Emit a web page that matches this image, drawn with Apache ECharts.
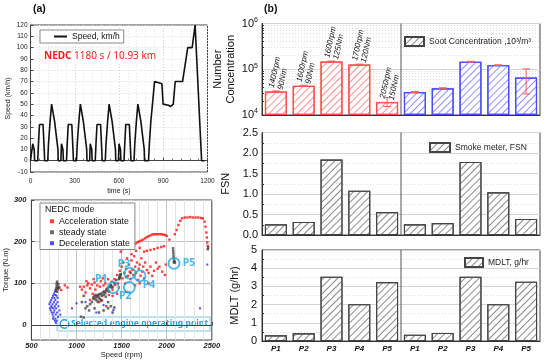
<!DOCTYPE html>
<html><head><meta charset="utf-8">
<script src="https://cdn.jsdelivr.net/npm/echarts@6/dist/echarts.min.js"></script>
<style>html,body{margin:0;padding:0;background:#fff}#c{width:550px;height:364px}</style>
</head><body><div id="c"></div>
<script>
// ================= DATA =================
// (a) NEDC speed profile (time s, speed km/h)
const speedTime = [0,11,15,23,25,28,49,54,56,61,85,93,96,117,122,124,133,135,143,155,163,176,186,188,
  195,206,210,218,220,223,244,249,251,256,280,288,291,312,317,319,328,330,338,350,358,371,381,383,
  390,401,405,413,415,418,439,444,446,451,475,483,486,507,512,514,523,525,533,545,553,566,576,578,
  585,596,600,608,610,613,634,639,641,646,670,678,681,702,707,709,718,720,728,740,748,761,771,773,
  780,800,806,808,816,818,827,829,841,891,899,935,950,968,981,1031,1066,1096,1116,1126,1160,1180];
const speedValue = [0,0,15,15,10,0,0,15,15,32,32,10,0,0,15,15,35,35,50,50,35,35,10,0,
  0,0,15,15,10,0,0,15,15,32,32,10,0,0,15,15,35,35,50,50,35,35,10,0,
  0,0,15,15,10,0,0,15,15,32,32,10,0,0,15,15,35,35,50,50,35,35,10,0,
  0,0,15,15,10,0,0,15,15,32,32,10,0,0,15,15,35,35,50,50,35,35,10,0,
  0,0,15,15,35,35,50,50,70,68,50,49,48,50,70,70,100,100,120,120,0,0];

// (a) engine operating points (rpm, N.m)
const accelPoints = [
  [2090,218],[2110,228],[2130,240],[2150,250],[2170,256],[2200,258],[2230,258],[2260,259],[2290,258],[2320,258],
  [2350,258],[2380,257],[2400,256],[2420,248],[2430,236],[2440,222],[2445,210],[2450,198],[2455,190],
  [1490,176],[1510,182],[1530,186],[1550,189],[1570,190],[1600,190],[1620,191],[1640,193],[1660,196],[1680,199],
  [1700,201],[1720,203],[1740,205],[1760,208],[1780,211],[1800,213],[1820,215],[1840,217],[1860,218],[1880,218],
  [1900,218],[1920,218],[1940,218],[1960,217],[1980,216],[2000,214],[2030,205],
  [1750,176],[1780,178],[1820,180],[1860,182],[1900,185],[1940,187],[1970,189],
  [1060,85],[1080,92],[1100,78],[1120,95],[1130,100],[1150,88],[1170,97],[1180,75],[1200,102],[1210,85],
  [1230,95],[1240,70],[1260,92],[1270,105],[1280,60],[1300,95],[1310,80],[1320,100],[1340,88],[1350,110],
  [1360,72],[1380,95],[1390,104],[1400,85],[1420,110],[1430,96],[1450,120],[1460,100],[1470,90],[1480,130],
  [1500,140],[1510,112],[1520,150],[1530,125],[1540,100],[1550,135],[1560,160],[1570,118],[1580,145],[1590,128],
  [1600,110],[1610,155],[1620,132],[1630,120],[1640,165],[1650,140],[1660,125],[1670,150],[1680,108],[1690,135],
  [1700,145],[1710,118],[1720,160],[1730,128],[1740,140],[1750,112],[1760,150],[1780,132],[1800,125],[1820,140],
  [1840,118],[1860,130],[1880,150],[1900,135],[1920,140],[1950,128],[1980,120],[1990,145],[1150,60],[1250,55],
  [1330,45],[1400,70],[1450,75],[1650,95],[1700,100],[1800,100],[870,95],[900,90],[1040,92],[1550,80],
  [790,88],[810,90],[830,84],[1110,105],[1190,110],[1290,112],[1610,170],[1660,178],[1700,185]
];
const steadyPoints = [
  [770,82],[775,88],[780,95],[782,100],[785,104],[790,92],[795,86],[800,98],[805,90],[785,80],
  [1150,50],[1170,55],[1190,62],[1200,70],[1210,65],[1220,60],[1230,68],[1240,72],[1250,65],[1260,62],
  [1270,75],[1280,70],[1290,78],[1300,72],[1310,80],[1320,76],[1330,85],[1340,82],[1350,88],[1360,80],
  [1370,92],[1380,95],[1390,90],[1400,92],[1215,72],[1255,74],[1275,58],[1325,68],[1185,66],[1235,56],
  [1470,110],[1475,112],[1480,114],[1480,118],[1485,120],[1480,116],[1490,122],
  [2080,150],[2082,154],[2078,160],[2076,166],[2074,172],[2072,178],[2070,184],[2090,150],[2085,152],
  [1100,40],[1120,45],[1060,55],[1080,70],[1140,35],[1200,40],[1300,35],[1350,40],[1400,30],[1250,30],
  [1350,55],[1420,100],[1440,108],[1550,115],[1600,125],[2455,182],[2460,186],[1050,20],[1080,18],[1380,45],[1420,42]
];
const decelPoints = [
  [700,50],[705,40],[710,55],[715,35],[720,60],[720,45],[725,30],[730,65],[735,50],[735,25],
  [740,70],[745,40],[745,20],[750,75],[750,55],[755,35],[760,80],[760,45],[765,15],[765,60],
  [770,25],[770,85],[775,50],[775,40],[780,10],[780,70],[785,30],[790,55],[795,20],[800,45],
  [810,35],[820,25],[760,10],[770,5],[740,15],[755,65],[765,72],[748,30],[728,42],[790,65],
  [1000,52],[950,40],[1220,30],[1300,48],[1410,36],[2370,40],[2450,145],[1100,55]
];
const opPoints = [[1408,90],[1585,90],[1593,124],[1704,118],[2081,148]];
const opNames = ['P1','P2','P3','P4','P5'];

// (b) bar charts
const categories = ['P1','P2','P3','P4','P5','P1','P2','P3','P4','P5'];
const opLabels = ['1400rpm\n90Nm','1600rpm\n90Nm','1600rpm\n125Nm','1700rpm\n120Nm','2050rpm\n150Nm'];
const sootLeft = [32500, 43500, 148000, 127000, 19100];
const sootLeftLow = [31500, 42300, 145000, 124500, 15300];
const sootLeftHigh = [33500, 44700, 151000, 129500, 24000];
const sootRight = [31900, 38400, 146000, 123000, 66000];
const sootRightLow = [31100, 37400, 143000, 120500, 28800];
const sootRightHigh = [32700, 39400, 149000, 125500, 101600];
const fsnLeft = [0.26, 0.32, 1.84, 1.08, 0.56];
const fsnRight = [0.26, 0.29, 1.78, 1.04, 0.39];
const mdltLeft = [0.31, 0.42, 3.53, 2.02, 3.24];
const mdltRight = [0.35, 0.44, 3.53, 2.02, 3.26];

// ================= CHART =================
const F = '"Liberation Sans", Arial, sans-serif';
const CYAN = '#1ea6e2';
const chart = echarts.init(document.getElementById('c'), null, {width:550, height:364});

function hatch(color){
  return {symbol:'rect', symbolSize:1, dashArrayX:[1,0], dashArrayY:[1,3.5], rotation:-Math.PI/4, color:color};
}
const blank5 = ['-','-','-','-','-'];

function errRender(params, api){
  const x = api.value(0), lo = api.value(1), hi = api.value(2);
  const p1 = api.coord([x, lo]), p2 = api.coord([x, hi]);
  const w = 4, st = {stroke:'#ff5a5a', lineWidth:1};
  return {type:'group', children:[
    {type:'line', shape:{x1:p1[0],y1:p1[1],x2:p2[0],y2:p2[1]}, style:st},
    {type:'line', shape:{x1:p1[0]-w,y1:p1[1],x2:p1[0]+w,y2:p1[1]}, style:st},
    {type:'line', shape:{x1:p2[0]-w,y1:p2[1],x2:p2[0]+w,y2:p2[1]}, style:st}
  ]};
}
const errData = sootLeft.map((v,i)=>[i, sootLeftLow[i], sootLeftHigh[i]])
  .concat(sootRight.map((v,i)=>[i+5, sootRightLow[i], sootRightHigh[i]]));

const GB = {left:262, width:278};
const grids = [
  {left:30.5, top:25, width:177, height:147},
  {left:31.4, top:200, width:180.4, height:140},
  {left:GB.left, top:23.5, width:GB.width, height:91.5},
  {left:GB.left, top:132.5, width:GB.width, height:102.5},
  {left:GB.left, top:250, width:GB.width, height:91}
].map(g => Object.assign({show:true, borderColor:'#444', borderWidth:1, backgroundColor:'transparent', outerBoundsMode:'none'}, g));

const lbl = (size, extra) => Object.assign({fontFamily:F, fontSize:size, color:'#222'}, extra||{});
const solidGrid = {show:true, lineStyle:{color:'#d4d4d4', width:1}};
const dotGrid = {show:true, lineStyle:{color:'#dcdcdc', width:1, type:[1,2]}};

const bCatAxis = (gi, showLabel) => ({
  type:'category', gridIndex:gi, data:categories,
  axisLine:{show:true, lineStyle:{color:'#333'}},
  axisTick:{show:true, inside:true, alignWithLabel:true, length:4, lineStyle:{color:'#333'}},
  axisLabel:{show:showLabel, ...lbl(8, {fontWeight:'bold', fontStyle:'italic', color:'#111'}), margin:4},
  splitLine:{show:false}
});
const barCommon = {barWidth:22, barGap:'-100%'};

const option = {
  animation:false,
  backgroundColor:'#fff',
  textStyle:{fontFamily:F},
  grid: grids,
  xAxis: [
    {type:'value', gridIndex:0, min:0, max:1200, interval:300,
      axisLine:{lineStyle:{color:'#444'}}, axisTick:{inside:true, length:3, lineStyle:{color:'#444'}},
      minorTick:{show:true, splitNumber:5, length:2, lineStyle:{color:'#666'}},
      axisLabel:lbl(6.5, {margin:6, formatter: v => String(v)}),
      splitLine:{show:true, lineStyle:{color:'#cfcfcf', type:[1,2]}},
      minorSplitLine:{show:true, lineStyle:{color:'#e6e6e6', type:[1,2]}},
      name:'time (s)', nameLocation:'middle', nameGap:16, nameTextStyle:lbl(7)},
    {type:'value', gridIndex:1, min:500, max:2500, interval:500,
      axisLine:{lineStyle:{color:'#444'}}, axisTick:{inside:true, length:3},
      minorTick:{show:false},
      axisLabel:lbl(7.5, {fontWeight:'bold', fontStyle:'italic', margin:2, formatter: v => String(v)}),
      splitLine:{show:true, lineStyle:{color:'#c4c4c4'}},
      minorSplitLine:{show:true, lineStyle:{color:'#e4e4e4'}},
      name:'Speed (rpm)', nameLocation:'middle', nameGap:10, nameTextStyle:lbl(7.5)},
    bCatAxis(2,false), bCatAxis(3,false), bCatAxis(4,true)
  ],
  yAxis: [
    {type:'value', gridIndex:0, min:-10, max:120, interval:10,
      axisLine:{lineStyle:{color:'#444'}}, axisTick:{inside:true, length:3},
      axisLabel:lbl(6.5, {margin:3}),
      splitLine:{show:true, lineStyle:{color:'#d6d6d6', type:[1,2]}},
      name:'Speed (km/h)', nameLocation:'middle', nameGap:19, nameTextStyle:lbl(7)},
    {type:'value', gridIndex:1, min:-36, max:300,
      axisLine:{lineStyle:{color:'#444'}},
      axisTick:{inside:true, length:3, customValues:[0,100,200,300]},
      axisLabel:lbl(7.5, {fontWeight:'bold', fontStyle:'italic', margin:5, customValues:[0,100,200,300]}),
      splitLine:{show:true, lineStyle:{color:'#c4c4c4'}},
      name:'Torque (N.m)', nameLocation:'middle', nameGap:20, nameTextStyle:lbl(7.5)},
    {type:'log', gridIndex:2, min:10000, max:1000000, logBase:10, startValue:10000,
      axisLine:{show:true, lineStyle:{color:'#333'}}, axisTick:{inside:true, length:4},
      minorTick:{show:true, splitNumber:9, length:2},
      axisLabel:{...lbl(11, {color:'#111'}), margin:4,
        formatter: v => '10{s|' + Math.round(Math.log10(v)) + '}',
        rich:{s:{fontFamily:F, fontSize:7, verticalAlign:'top', padding:[0,0,7,0], color:'#111'}}},
      splitLine:solidGrid, minorSplitLine:dotGrid,
      name:'Number\nConcentration', nameLocation:'middle', nameGap:25, nameMoveOverlap:false,
      nameTextStyle:lbl(11, {color:'#111', lineHeight:13})},
    {type:'value', gridIndex:3, min:0, max:2.5, interval:0.5,
      axisLine:{show:true, lineStyle:{color:'#333'}}, axisTick:{inside:true, length:4},
      minorTick:{show:true, splitNumber:2, length:2},
      axisLabel:{...lbl(11, {color:'#111'}), margin:4, formatter: v => v.toFixed(1)},
      splitLine:solidGrid, minorSplitLine:dotGrid,
      name:'FSN', nameLocation:'middle', nameGap:24, nameTextStyle:lbl(11, {color:'#111'})},
    {type:'value', gridIndex:4, min:0, max:5, interval:1,
      axisLine:{show:true, lineStyle:{color:'#333'}}, axisTick:{inside:true, length:4},
      minorTick:{show:true, splitNumber:2, length:2},
      axisLabel:{...lbl(11, {color:'#111'}), margin:5},
      splitLine:solidGrid, minorSplitLine:dotGrid,
      name:'MDLT (g/hr)', nameLocation:'middle', nameGap:21, nameTextStyle:lbl(11, {color:'#111'})}
  ],
  legend: [
    {data:[{name:'Speed, km/h', icon:'rect'}], left:40, top:30, orient:'vertical', backgroundColor:'#fff',
      borderColor:'#888', borderWidth:1, padding:[2,4,2,14], itemWidth:13, itemHeight:2, itemGap:0,
      textStyle:lbl(8.5, {color:'#111'})},
    {data:['Acceleration state','steady state','Deceleration state'], left:40, top:203, orient:'vertical',
      backgroundColor:'#fff', borderColor:'#888', borderWidth:1, padding:[13,5,1,10], itemGap:0.5,
      icon:'rect', itemWidth:4, itemHeight:4, textStyle:lbl(8.8, {color:'#111', lineHeight:10.5})},
    {data:['Soot Concentration ,10³/m³'], left:404, top:36, padding:0, icon:'rect', itemWidth:19, itemHeight:9,
      itemGap:0, textStyle:lbl(8.5, {color:'#222'})},
    {data:['Smoke meter, FSN'], left:429, top:142, padding:0, icon:'rect', itemWidth:20, itemHeight:9,
      textStyle:lbl(8.5, {color:'#222'})},
    {data:['MDLT, g/hr'], left:464, top:257, padding:0, icon:'rect', itemWidth:18, itemHeight:9,
      textStyle:lbl(8.5, {color:'#222'})}
  ],
  series: [
    {name:'Speed, km/h', type:'line', xAxisIndex:0, yAxisIndex:0, symbol:'none',
      data: speedTime.map((t,i)=>[t, speedValue[i]]), lineStyle:{color:'#111', width:1.6}, itemStyle:{color:'#111'}},
    {name:'steady state', type:'scatter', xAxisIndex:1, yAxisIndex:1, symbol:'rect', symbolSize:2.5,
      data: steadyPoints, itemStyle:{color:'#444'}, z:3},
    {name:'Acceleration state', type:'scatter', xAxisIndex:1, yAxisIndex:1, symbol:'rect', symbolSize:2.4,
      data: accelPoints, itemStyle:{color:'#ff1010'}, z:2},
    {name:'Deceleration state', type:'scatter', xAxisIndex:1, yAxisIndex:1, symbol:'rect', symbolSize:2,
      data: decelPoints, itemStyle:{color:'#2222ff'}, z:2},
    {name:'op', type:'scatter', xAxisIndex:1, yAxisIndex:1, symbol:'circle', symbolSize:11, z:5,
      itemStyle:{color:'rgba(0,0,0,0)', borderColor:CYAN, borderWidth:1.8},
      label:{show:true, position:'inside', color:CYAN, fontFamily:'"Noto Sans", sans-serif', fontWeight:'bold', fontSize:10.5,
        formatter: p => opNames[p.dataIndex]},
      data: opPoints.map((p,i)=>({value:p, label:{offset:[[-12,-8],[-4,9],[-6,-9],[9,9],[15,0]][i]}}))},
    // (b) soot
    {name:'sootL', type:'bar', xAxisIndex:2, yAxisIndex:2, ...barCommon,
      data: sootLeft.concat(blank5),
      itemStyle:{color:'#fff', borderColor:'#ff4d4d', borderWidth:1.2, decal:hatch('rgba(255,110,110,0.75)')},
      label:{show:true, position:'top', rotate:78, align:'left', verticalAlign:'middle', distance:3,
        fontFamily:F, fontSize:8, fontStyle:'italic', color:'#111', lineHeight:9,
        formatter: p => opLabels[p.dataIndex]}},
    {name:'sootR', type:'bar', xAxisIndex:2, yAxisIndex:2, ...barCommon,
      data: blank5.concat(sootRight),
      itemStyle:{color:'#fff', borderColor:'#4a4aff', borderWidth:1.2, decal:hatch('rgba(110,110,255,0.75)')}},
    {name:'Soot Concentration ,10³/m³', type:'bar', xAxisIndex:2, yAxisIndex:2, ...barCommon, data:[],
      itemStyle:{color:'#fff', borderColor:'#444', borderWidth:1, decal:hatch('#888')}},
    {name:'sootErr', type:'custom', xAxisIndex:2, yAxisIndex:2, renderItem:errRender, encode:{x:0, y:[1,2]}, data:errData, z:5},
    // (b) FSN
    {name:'Smoke meter, FSN', type:'bar', xAxisIndex:3, yAxisIndex:3, ...barCommon,
      data: fsnLeft.concat(fsnRight),
      itemStyle:{color:'#fff', borderColor:'#444', borderWidth:1.1, decal:hatch('#8a8a8a')}},
    // (b) MDLT
    {name:'MDLT, g/hr', type:'bar', xAxisIndex:4, yAxisIndex:4, ...barCommon,
      data: mdltLeft.concat(mdltRight),
      itemStyle:{color:'#fff', borderColor:'#444', borderWidth:1.1, decal:hatch('#8a8a8a')}}
  ],
  graphic: []
};

chart.setOption(option);

// decorations: dividers, panel labels, text boxes
const divX = (chart.convertToPixel({xAxisIndex:2}, 4) + chart.convertToPixel({xAxisIndex:2}, 5)) / 2;
const gfx = [];
[[23.5,115],[132.5,235],[250,341]].forEach(([t,b]) => {
  gfx.push({type:'line', shape:{x1:divX, y1:t, x2:divX, y2:b}, style:{stroke:'#555', lineWidth:1}, z:10});
});
gfx.push({type:'text', left:33, top:4, style:{text:'(a)', font:'bold 10.5px '+F, fill:'#111'}});
gfx.push({type:'text', left:264, top:4, style:{text:'(b)', font:'bold 10.5px '+F, fill:'#111'}});
gfx.push({type:'text', left:42, top:50, z:20, style:{
  text:'{b|NEDC} 1180 s / 10.93 km', backgroundColor:'#fff', padding:[1,2],
  fill:'#ff1a1a', font:'10px "Noto Sans", sans-serif',
  rich:{b:{fontWeight:'bold', fill:'#ff1a1a', fontSize:10, fontFamily:'"Noto Sans", sans-serif'}}}});
gfx.push({type:'text', left:45, top:205, z:20, style:{text:'NEDC mode', font:'8.8px '+F, fill:'#111'}});
gfx.push({type:'group', z:20, children:[
  {type:'rect', shape:{x:57, y:317, width:153, height:14}, style:{fill:'#fff', stroke:'#7cc6ea', lineWidth:1}},
  {type:'circle', shape:{cx:64.5, cy:324, r:4.3}, style:{fill:'none', stroke:CYAN, lineWidth:1.6}},
  {type:'text', x:71, y:324, style:{text:'Selected engine operating point', fill:CYAN,
    font:'bold 8.6px "Noto Sans", sans-serif', verticalAlign:'middle'}}
]});
chart.setOption({graphic: gfx});
</script>
</body></html>
